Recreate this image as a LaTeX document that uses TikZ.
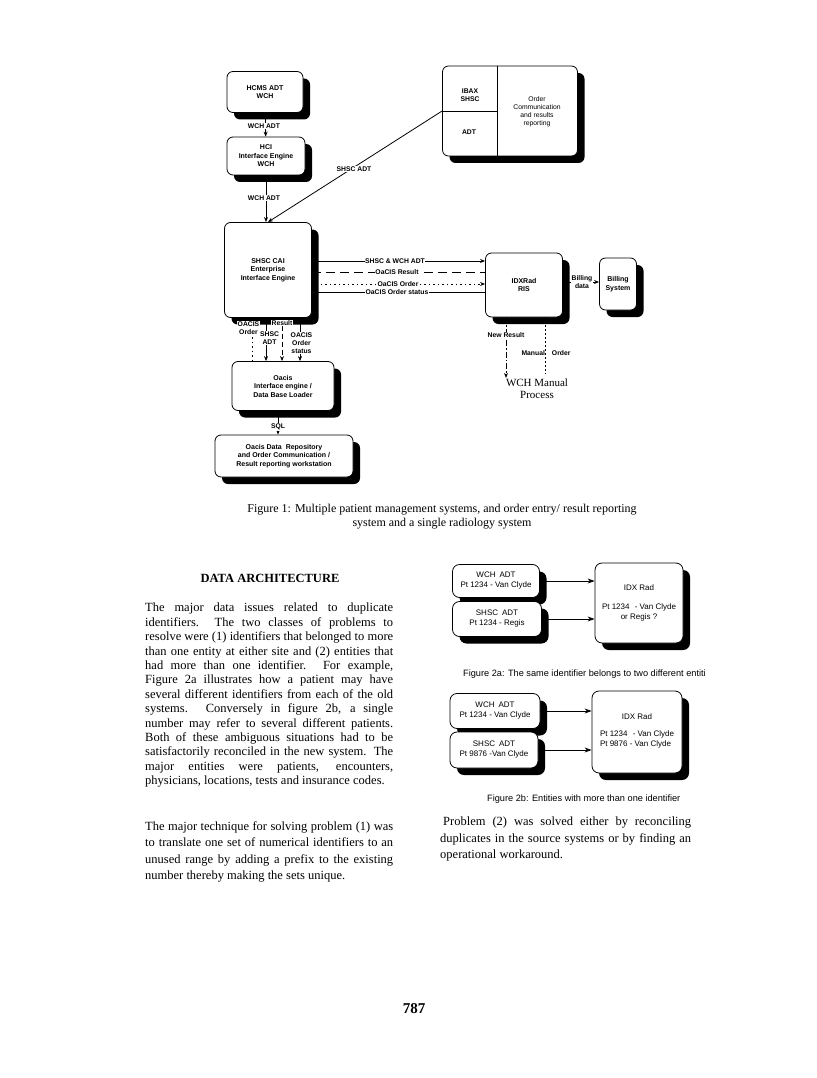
\documentclass[tikz,border=0pt]{standalone}
\usepackage{fontspec}
\setmainfont{Liberation Serif}
\setsansfont{Liberation Sans}
\usepackage{tikz}
\usetikzlibrary{arrows.meta, positioning, calc, shadows}

\begin{document}
\begin{tikzpicture}[x=1pt, y=-1pt,
  sysbox/.style={draw, thick, rounded corners=6pt, fill=white, align=center, inner sep=1pt,
    font=\sffamily\bfseries\fontsize{7}{8.5}\selectfont,
    drop shadow={shadow xshift=7pt, shadow yshift=-7pt, fill=black, opacity=1}},
  flowlbl/.style={font=\sffamily\bfseries\fontsize{6.8}{7.8}\selectfont, align=center, inner sep=0.6pt},
  onlinelbl/.style={flowlbl, fill=white},
  idbox/.style={draw, thick, rounded corners=7pt, fill=white, align=center, inner sep=1pt,
    font=\sffamily\fontsize{8}{10}\selectfont,
    drop shadow={shadow xshift=7pt, shadow yshift=-7pt, fill=black, opacity=1}},
  bodytext/.style={font=\fontsize{12.5}{14.4}\selectfont, text width=248pt, align=justify, inner sep=0pt, anchor=north west},
  capsans/.style={font=\sffamily\fontsize{9.2}{11}\selectfont, anchor=west, inner sep=0pt},
  arr/.style={-{Stealth[length=5pt, width=4pt]}},
  idarr/.style={thick, -{Stealth[length=7pt, width=5pt]}}]
\fill[white] (0,0) rectangle (816,1078);
\useasboundingbox (0,0) rectangle (816,1078);

% figure 1 : systems
\node[sysbox, minimum width=76pt, minimum height=41pt] (hcms) at (265,92) {HCMS ADT\\WCH};
\node[sysbox, minimum width=78pt, minimum height=38pt] (hci) at (266,156) {HCI\\Interface Engine\\WCH};
\node[sysbox, minimum width=87pt, minimum height=95pt] (cai) at (268,270) {SHSC CAI\\Enterprise\\Interface Engine};
\node[sysbox, minimum width=135pt, minimum height=90pt] (ibax) at (510,111) {};
\node[sysbox, minimum width=77pt, minimum height=64pt] (idx) at (524,285) {IDXRad\\RIS};
\node[sysbox, minimum width=37pt, minimum height=52pt] (bill) at (618,284) {Billing\\System};
\node[sysbox, minimum width=102pt, minimum height=49pt] (oacis) at (283,386) {Oacis\\Interface engine /\\Data Base Loader};
\node[sysbox, minimum width=138pt, minimum height=42pt] (repo) at (284,456) {Oacis Data\ \ Repository\\and Order Communication /\\Result reporting workstation};

% ibax quarters
\coordinate (ibaxtop) at ($(ibax.north west)!0.41!(ibax.north east)$);
\coordinate (ibaxbot) at ($(ibax.south west)!0.41!(ibax.south east)$);
\draw[thick] (ibaxtop) -- (ibaxbot);
\draw[thick] (ibax.west) -- (ibax.west -| ibaxtop);
\node[flowlbl] (ibaxname) at (470,95) {IBAX\\SHSC};
\node[flowlbl] (ibaxadt) at (469,132) {ADT};
\node[flowlbl, font=\sffamily\fontsize{6.8}{8}\selectfont] (ibaxorder) at (537,112) {Order\\Communication\\and results\\reporting};

% ADT feeds
\draw[thick, arr] (hcms) -- (hci);
\node[onlinelbl] (lblwch1) at (264,126) {WCH ADT};
\draw[thick, arr] (hci.south) -- (hci.south |- cai.north);
\node[onlinelbl] (lblwch2) at (264,198) {WCH ADT};
\draw[thick, arr] (ibax.west) -- (cai.north);
\node[onlinelbl] (lblshsc) at (354,169) {SHSC ADT};

% CAI <-> IDXRad
\coordinate (adtrow) at (395,261);
\coordinate (resrow) at (397,272);
\coordinate (ordrow) at (398,284);
\coordinate (statrow) at (397,292);
\draw[thick, arr] (cai.east |- adtrow) -- (idx.west |- adtrow);
\draw[thick, dash pattern=on 9pt off 5pt] (cai.east |- resrow) -- (idx.west |- resrow);
\draw[thick, arr, dash pattern=on 1.5pt off 3pt] (cai.east |- ordrow) -- (idx.west |- ordrow);
\draw[semithick] (cai.east |- statrow) -- (idx.west |- statrow);
\node[onlinelbl] (lbladt) at (adtrow) {SHSC \& WCH ADT};
\node[onlinelbl] (lblres) at (resrow) {OaCIS Result};
\node[onlinelbl] (lblord) at (ordrow) {OaCIS Order};
\node[onlinelbl, inner ysep=0pt] (lblstat) at (statrow) {OaCIS Order status};

% billing
\coordinate (billrow) at (582,282);
\draw[thick, arr] (idx.east |- billrow) -- (bill.west |- billrow);
\node[onlinelbl] (lblbill) at (billrow) {Billing\\data};

% manual process
\node[font=\fontsize{11}{12}\selectfont, align=center, inner sep=1pt] (manual) at (537,389) {WCH Manual\\Process};
\coordinate (newrescol) at (506,335);
\draw[thick, arr, dash pattern=on 6pt off 2pt on 1.5pt off 2pt] (idx.south -| newrescol) -- (manual.north -| newrescol);
\node[onlinelbl] (lblnewres) at (newrescol) {New Result};
\coordinate (manordend) at (545,374);
\draw[thick, dash pattern=on 1.5pt off 2.5pt] (idx.south -| manordend) -- (manordend);
\node[flowlbl] (lblmanord) at (546,353) {Manual\hspace{7pt}Order};

% CAI <-> Oacis
\coordinate (ordcol) at (252,328);
\coordinate (adtcol) at (266,338);
\coordinate (rescol) at (282,323);
\coordinate (statcol) at (300,343);
\draw[thick, arr, dash pattern=on 1.5pt off 3pt] (oacis.north -| ordcol) -- (cai.south -| ordcol);
\draw[thick, arr] (cai.south -| adtcol) -- (oacis.north -| adtcol);
\draw[thick, arr, dash pattern=on 5pt off 3pt] (cai.south -| rescol) -- (oacis.north -| rescol);
\draw[semithick, arr] (cai.south -| statcol) -- (oacis.north -| statcol);
\node[onlinelbl, xshift=3.5pt] (lbladtdown) at (adtcol) {SHSC\\ADT};
\node[onlinelbl, xshift=-3.5pt] (lblorder) at (ordcol) {OACIS\\Order};
\node[onlinelbl] (lblresult) at (rescol) {Result};
\node[onlinelbl, xshift=1.5pt] (lblstatus) at (statcol) {OACIS\\Order\\status};

% SQL
\coordinate (sqlcol) at (278,427);
\draw[thick, arr] (oacis.south -| sqlcol) -- (repo.north -| sqlcol);
\node[onlinelbl] (lblsql) at (sqlcol) {SQL};

\node[font=\fontsize{12}{14}\selectfont, align=center] (cap1) at (442,517) {Figure 1: Multiple patient management systems, and order entry/ result reporting\\system and a single radiology system};

% left column text
\node[font=\bfseries\fontsize{12.5}{14}\selectfont] (head) at (270,578) {DATA ARCHITECTURE};
\node[bodytext] (para1) at (145,603) {The major data issues related to duplicate\linebreak
identifiers.\ \ The two classes of problems to\linebreak
resolve were (1) identifiers that belonged to more\linebreak
than one entity at either site and (2) entities that\linebreak
had more than one identifier. For example,\linebreak
Figure 2a illustrates how a patient may have\linebreak
several different identifiers from each of the old\linebreak
systems. Conversely in figure 2b, a single\linebreak
number may refer to several different patients.\linebreak
Both of these ambiguous situations had to be\linebreak
satisfactorily reconciled in the new system. The\linebreak
major entities were patients, encounters,\linebreak
physicians, locations, tests and insurance codes.};
\node[bodytext, font=\fontsize{12.5}{16.5}\selectfont] (para2) at (145,821) {The major technique for solving problem (1) was\linebreak
to translate one set of numerical identifiers to an\linebreak
unused range by adding a prefix to the existing\linebreak
number thereby making the sets unique.};

% figure 2a
\node[idbox, minimum width=87pt, minimum height=33pt] (wcha) at (496,581) {WCH\hspace{4pt}ADT\\Pt 1234 - Van Clyde};
\node[idbox, minimum width=89pt, minimum height=35pt] (shsca) at (497,619) {SHSC\hspace{4pt}ADT\\Pt 1234 - Regis};
\node[idbox, minimum width=88pt, minimum height=80pt] (idxa) at (639,603) {IDX Rad\\[9pt]Pt 1234\hspace{3pt} - Van Clyde\\or Regis ?};
\draw[idarr] (wcha.east) -- (wcha.east -| idxa.west);
\draw[idarr] (shsca.east) -- (shsca.east -| idxa.west);
\node[capsans] (cap2a) at (463,674) {Figure 2a: The same identifier belongs to two different entiti};

% figure 2b
\node[idbox, minimum width=90pt, minimum height=35pt] (wchb) at (495,711) {WCH\hspace{4pt}ADT\\Pt 1234 - Van Clyde};
\node[idbox, minimum width=88pt, minimum height=36pt] (shscb) at (494,750) {SHSC\hspace{4pt}ADT\\Pt 9876 -Van Clyde};
\node[idbox, minimum width=90pt, minimum height=82pt] (idxb) at (637,732) {IDX Rad\\[9pt]\begin{tabular}{@{}l@{}}Pt 1234\hspace{3pt} - Van Clyde\\Pt 9876 - Van Clyde\end{tabular}};
\draw[idarr] (wchb.east) -- (wchb.east -| idxb.west);
\draw[idarr] (shscb.east) -- (shscb.east -| idxb.west);
\node[capsans] (cap2b) at (487,799) {Figure 2b: Entities with more than one identifier};

% right column text
\node[bodytext, text width=251pt, font=\fontsize{12.5}{16.5}\selectfont] (para3) at (440,817) {\hspace{3pt}Problem (2) was solved either by reconciling\linebreak
duplicates in the source systems or by finding an\linebreak
operational workaround.};

\node[font=\bfseries\fontsize{15}{16}\selectfont] (pageno) at (414,1009) {787};
\end{tikzpicture}
\end{document}
